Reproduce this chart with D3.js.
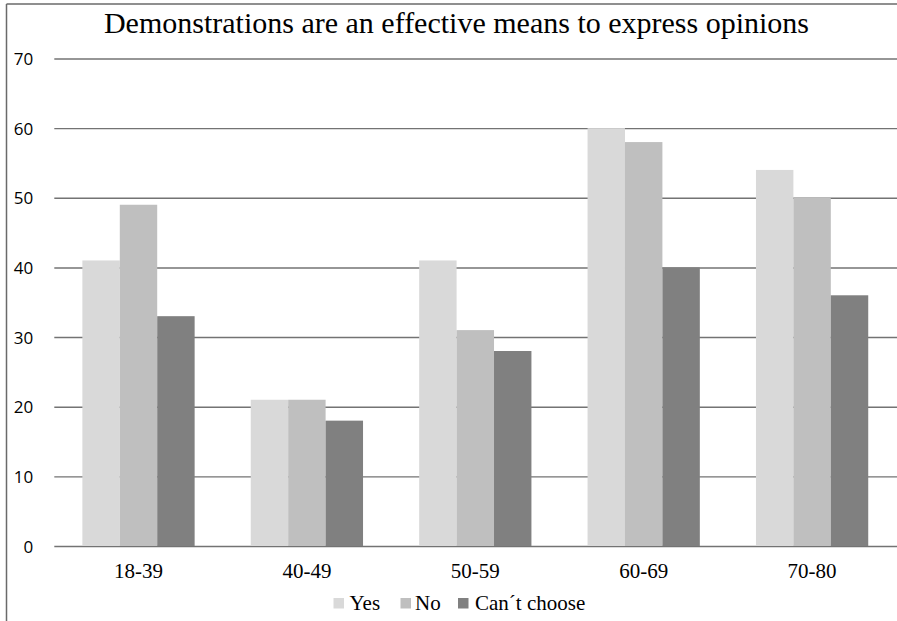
<!DOCTYPE html>
<html>
<head>
<meta charset="utf-8">
<script src="https://cdn.jsdelivr.net/npm/d3@7"></script>
<style>
  html, body { margin: 0; padding: 0; background: #fff; }
  svg { display: block; }
  .serif { font-family: "Liberation Serif", "Times New Roman", Times, "DejaVu Serif", serif; }
  .sans { font-family: "Open Sans", "Liberation Sans", Arial, sans-serif; }
</style>
</head>
<body>
<svg id="chart" width="897" height="621"></svg>
<script>
const title = "Demonstrations are an effective means to express opinions";
const categories = ["18-39", "40-49", "50-59", "60-69", "70-80"];
const seriesNames = ["Yes", "No", "Can\u00b4t choose"];
const yesValues = [41, 21, 41, 60, 54];
const noValues = [49, 21, 31, 58, 50];
const cantValues = [33, 18, 28, 40, 36];
const yTicks = [0, 10, 20, 30, 40, 50, 60, 70];
const colors = ["#d9d9d9", "#bfbfbf", "#808080"];

const seriesValues = [yesValues, noValues, cantValues];
const data = categories.map((c, i) => ({
  category: c,
  values: seriesNames.map((s, j) => ({ series: s, value: seriesValues[j][i] }))
}));

const W = 897, H = 621;
const plot = { left: 54.3, right: 896.3, top: 58.5, bottom: 546 };

const svg = d3.select("#chart");

const x0 = d3.scaleBand()
  .domain(categories)
  .range([plot.left, plot.right])
  .paddingInner(1/3)
  .paddingOuter(1/6);

const x1 = d3.scaleBand()
  .domain(seriesNames)
  .range([0, x0.bandwidth()])
  .padding(0);

const y = d3.scaleLinear()
  .domain([0, 70])
  .range([plot.bottom, plot.top]);

const color = d3.scaleOrdinal().domain(seriesNames).range(colors);

// frame (top and left border)
svg.append("line")
  .attr("x1", 6.5).attr("x2", W).attr("y1", 4).attr("y2", 4)
  .attr("stroke", "#6a6a6a").attr("stroke-width", 1.5);
svg.append("line")
  .attr("x1", 6.5).attr("x2", 6.5).attr("y1", 4).attr("y2", H)
  .attr("stroke", "#6a6a6a").attr("stroke-width", 1.5);

// gridlines
const yAxis = d3.axisLeft(y)
  .tickValues(yTicks)
  .tickSize(-(W - plot.left))
  .tickPadding(21)
  .tickFormat(d3.format("d"));

const gy = svg.append("g")
  .attr("transform", `translate(${plot.left},0)`)
  .call(yAxis)
  .attr("font-family", null);
gy.select(".domain").remove();
gy.selectAll(".tick line")
  .attr("stroke", "#737373")
  .attr("stroke-width", 1.4);
gy.selectAll(".tick text")
  .attr("class", "sans")
  .attr("fill", "#000")
  .attr("font-size", 17)
  .attr("dy", "0.36em");

// bars
const groups = svg.append("g")
  .selectAll("g")
  .data(data)
  .join("g")
  .attr("transform", d => `translate(${x0(d.category)},0)`);

groups.selectAll("rect")
  .data(d => d.values)
  .join("rect")
  .attr("x", d => x1(d.series))
  .attr("y", d => y(d.value))
  .attr("width", x1.bandwidth())
  .attr("height", d => y(0) - y(d.value))
  .attr("fill", d => color(d.series));

// x axis labels
const xAxis = d3.axisBottom(x0).tickSize(0).tickPadding(0);
const gx = svg.append("g")
  .attr("transform", `translate(0,${plot.bottom})`)
  .call(xAxis)
  .attr("font-family", null);
gx.select(".domain").remove();
gx.selectAll(".tick text")
  .attr("class", "serif")
  .attr("fill", "#000")
  .attr("font-size", 21)
  .attr("dy", 0)
  .attr("y", 31.7);

// title
svg.append("text")
  .attr("class", "serif")
  .attr("x", 456.5)
  .attr("y", 33)
  .attr("text-anchor", "middle")
  .attr("font-size", 30)
  .attr("fill", "#000")
  .text(title);

// legend
const legendItems = [
  { name: seriesNames[0], sx: 333.5, tx: 349.5 },
  { name: seriesNames[1], sx: 400.5, tx: 415 },
  { name: seriesNames[2], sx: 458, tx: 475 }
];
const lg = svg.append("g");
legendItems.forEach(it => {
  lg.append("rect")
    .attr("x", it.sx).attr("y", 598)
    .attr("width", 10.5).attr("height", 10.5)
    .attr("fill", color(it.name));
  lg.append("text")
    .attr("class", "serif")
    .attr("x", it.tx).attr("y", 610)
    .attr("font-size", 21)
    .attr("fill", "#000")
    .text(it.name);
});
</script>
</body>
</html>
